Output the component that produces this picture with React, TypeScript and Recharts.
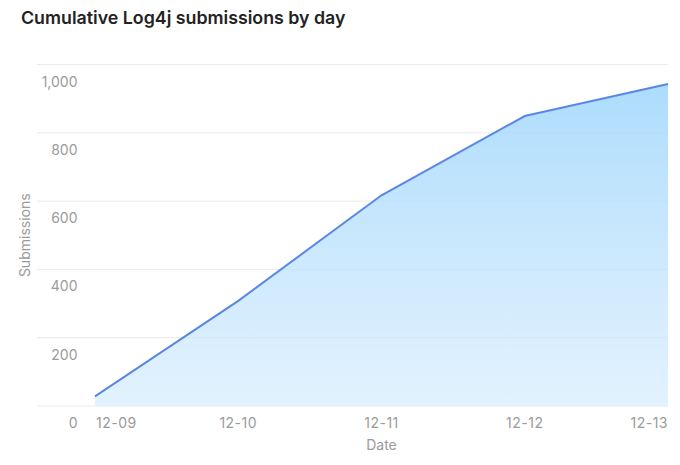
import React from "react";
import {
  AreaChart,
  Area,
  XAxis,
  YAxis,
  CartesianGrid,
} from "recharts";

const dates = ["12-09", "12-10", "12-11", "12-12", "12-13"];
const submissions = [28, 308, 617, 849, 943];
const yTicks = [0, 200, 400, 600, 800, 1000];

const data = dates.map((d, i) => ({ date: d, submissions: submissions[i] }));

const FONT = "Inter, 'Noto Sans', sans-serif";
const GRAY = "#9b9b9b";

const XTick = (props: any) => {
  const { x, y, payload, index } = props;
  const last = index === dates.length - 1;
  const anchor = index === 0 ? "start" : last ? "end" : "middle";
  return (
    <text
      x={x + (index === 0 ? 1 : 0)}
      y={y + 14}
      textAnchor={anchor}
      fill={GRAY}
      fontSize={14}
      fontFamily={FONT}
      letterSpacing={0.5}
    >
      {payload.value}
    </text>
  );
};

const YTick = (props: any) => {
  const { y, payload } = props;
  return (
    <text
      x={77.5}
      y={y + 22}
      textAnchor="end"
      fill={GRAY}
      fontSize={14}
      fontFamily={FONT}
    >
      {payload.value.toLocaleString("en-US")}
    </text>
  );
};

const App = () => {
  return (
    <div
      style={{
        position: "absolute",
        left: 0,
        top: 0,
        width: 680,
        height: 465,
        background: "#fff",
        fontFamily: FONT,
      }}
    >
      <div
        style={{
          position: "absolute",
          left: 21,
          top: 7,
          fontSize: 17.8,
          fontWeight: 600,
          color: "#222",
        }}
      >
        Cumulative Log4j submissions by day
      </div>
      <AreaChart
        width={680}
        height={465}
        data={data}
        margin={{ top: 64.5, right: 12, bottom: 0, left: 0 }}
      >
        <defs>
          <linearGradient id="fillGrad" x1="0" y1="0" x2="0" y2="1">
            <stop offset="0%" stopColor="#9ed6fc" stopOpacity={0.85} />
            <stop offset="100%" stopColor="#cfe9fd" stopOpacity={0.6} />
          </linearGradient>
        </defs>
        <CartesianGrid vertical={false} stroke="#ebebeb" />
        <XAxis
          dataKey="date"
          axisLine={false}
          tickLine={false}
          padding={{ left: 58, right: 0 }}
          tick={<XTick />}
          interval={0}
          height={59}
          label={(p: any) => {
            const vb = p.viewBox || {};
            return (
              <text
                x={vb.x + vb.width / 2 + 29}
                y={450}
                textAnchor="middle"
                fill={GRAY}
                fontSize={14}
                fontFamily={FONT}
              >
                Date
              </text>
            );
          }}
        />
        <YAxis
          width={37}
          domain={[0, 1000]}
          ticks={yTicks}
          axisLine={false}
          tickLine={false}
          tick={<YTick />}
          label={(p: any) => {
            const vb = p.viewBox || {};
            const cy = vb.y + vb.height / 2;
            return (
              <text
                x={30}
                y={cy}
                transform={`rotate(-90, 30, ${cy})`}
                textAnchor="middle"
                fill={GRAY}
                fontSize={14}
                fontFamily={FONT}
              >
                Submissions
              </text>
            );
          }}
        />
        <Area
          type="linear"
          dataKey="submissions"
          stroke="#5a87e6"
          strokeWidth={2}
          fill="url(#fillGrad)"
          fillOpacity={1}
          isAnimationActive={false}
          dot={false}
          activeDot={false}
        />
      </AreaChart>
    </div>
  );
};

export default App;
